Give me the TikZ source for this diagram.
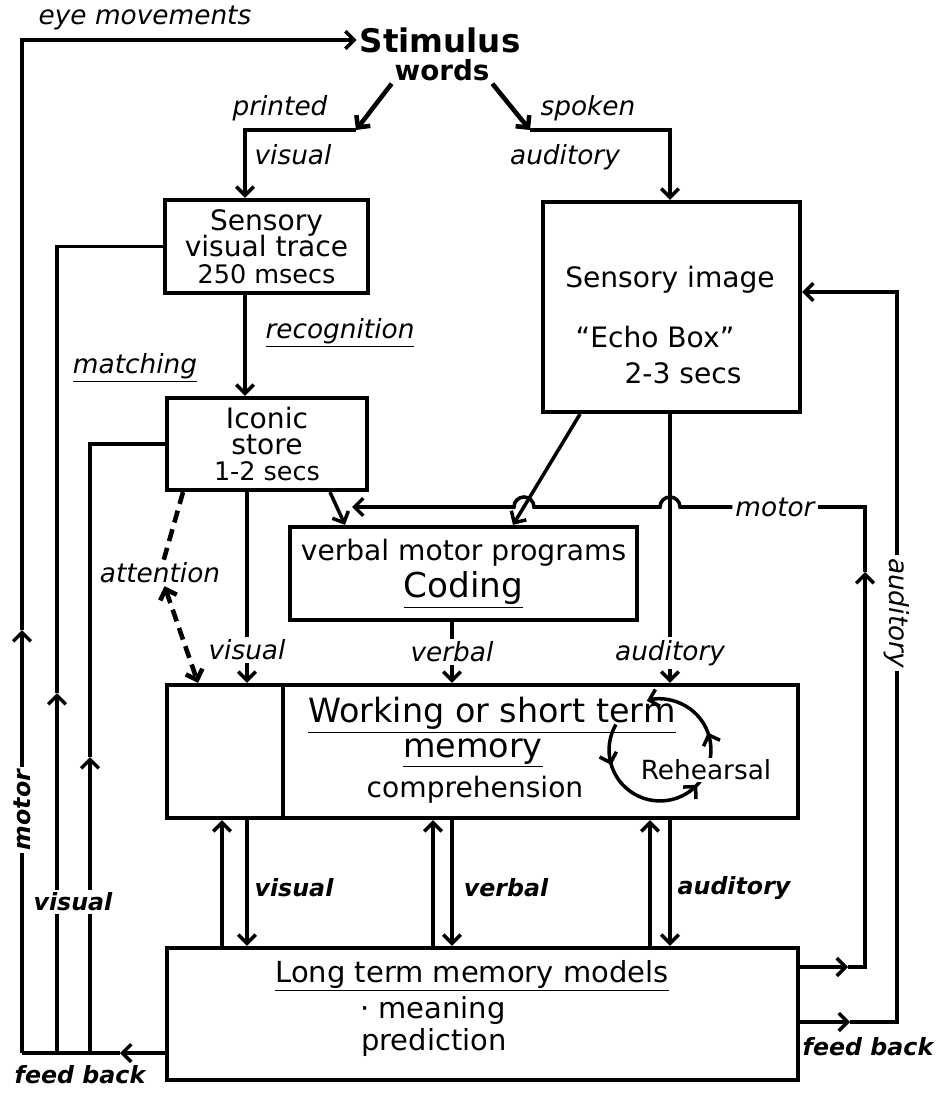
\documentclass[tikz,border=0pt]{standalone}
\usepackage{fontspec}
\setmainfont{DejaVu Sans}
\usetikzlibrary{arrows.meta,decorations.markings}

\newcommand\lblfnt{\fontsize{15}{18}\selectfont\itshape}
\newcommand\blblfnt{\fontsize{13.5}{16}\selectfont\bfseries\itshape}
\newcommand\boxfnt{\fontsize{16}{15}\selectfont\lineskiplimit=-30pt\relax}
\newcommand\secsfnt{\fontsize{14.5}{15}\selectfont}
\newcommand\bigfnt{\fontsize{19}{21}\selectfont}
\newcommand\ltmfnt{\fontsize{16.5}{18}\selectfont}

\tikzset{
  conn/.style={line width=2pt},
  box/.style={draw, line width=2.4pt, align=center},
  lbl/.style={font=\lblfnt, inner sep=1.5pt},
  blbl/.style={font=\blblfnt, inner sep=1.5pt},
  txt/.style={font=\boxfnt, inner sep=1pt},
  loopmarks/.style={postaction={decorate}, decoration={markings,
      mark=at position 0.15 with {\arrow{>}},
      mark=at position 0.53 with {\arrow{>}},
      mark=at position 0.73 with {\arrow{>}}}},
}

\begin{document}
\begin{tikzpicture}[x=0.02cm, y=-0.02cm, >={Straight Barb[length=5pt,width=10pt]}]
    \useasboundingbox (0,0) rectangle (947,1094);

    % stimulus
    \node[font=\fontsize{18.5}{20}\selectfont\bfseries, inner sep=1.5pt] (stim) at (440,40) {Stimulus};
    \node[font=\fontsize{15.8}{18}\selectfont\bfseries, inner sep=1.5pt] (words) at (442,70) {words};
    \node[lbl] (eyemov) at (145,18) {eye movements};

    % boxes
    \node[box, font=\boxfnt, minimum width=4.06cm, minimum height=1.86cm] (svt) at (266.5,246.5)
        {Sensory\\visual trace\\{\secsfnt 250 msecs}};
    \node[box, font=\boxfnt, minimum width=4cm, minimum height=1.84cm] (iconic) at (267,444)
        {Iconic\\store\\{\secsfnt 1-2 secs}};
    \node[box, minimum width=5.14cm, minimum height=4.2cm] (simg) at (671.5,307) {};
    \node[txt] (simg1) at (670,280) {Sensory image};
    \node[txt] (simg2) at (655,337) {``Echo Box''};
    \node[txt] (simg3) at (683,373) {2-3 secs};
    \node[box, font=\boxfnt, minimum width=6.94cm, minimum height=1.86cm] (coding) at (463.5,573.5)
        {verbal motor programs\\[6pt]{\fontsize{19.5}{22}\selectfont\underline{Coding}}};
    \node[box, minimum width=12.62cm, minimum height=2.66cm] (wm) at (482.5,751.5) {};
    \draw[line width=2.4pt] (wm.north -| 283,0) -- (wm.south -| 283,0);
    \node[font=\bigfnt, inner sep=1pt] (wm1) at (492,715) {\underline{Working or short term}};
    \node[font=\bigfnt, inner sep=1pt] (wm2) at (473,753) {\underline{memory}};
    \node[txt] (wm3) at (475,790) {comprehension};
    \node[box, minimum width=12.62cm, minimum height=2.64cm] (ltm) at (482.5,1014) {};
    \node[font=\ltmfnt, inner sep=0pt] (ltm1) at (472,976) {\underline{Long term memory models}};
    \node[font=\ltmfnt, inner sep=0pt] (ltm2) at (433,1010) {· meaning};
    \node[font=\ltmfnt, inner sep=0pt] (ltm3) at (434,1042) {prediction};

    % rehearsal loop
    \coordinate (rc) at (660,750);
    \draw[conn,->,loopmarks] ([shift={(150:29pt)}]rc) arc[start angle=150, end angle=465, radius=29pt];
    \node[txt, fill=white, font=\fontsize{15}{16}\selectfont] (rehe) at (706,770) {Rehearsal};

    % stimulus to sensory stores
    \coordinate (pc) at (356,130);
    \coordinate (sc) at (530,130);
    \draw[line width=2.6pt,->] (words.south west) -- (pc);
    \draw[line width=2.6pt,->] (words.south east) -- (sc);
    \draw[conn,->] (pc) -- (245,130) -- (svt.north -| 245,0);
    \draw[conn,->] (sc) -- (670,130) -- (simg.north -| 670,0);
    \node[lbl] (printed) at (280,108) {printed};
    \node[lbl] (vis1) at (293,155) {visual};
    \node[lbl] (spoken) at (588,108) {spoken};
    \node[lbl] (aud1) at (565,157) {auditory};

    % visual route
    \draw[conn,->] (svt.south -| 245,0) -- (iconic.north -| 245,0);
    \node[lbl] (recog) at (340,333) {\underline{recognition}};
    \node[lbl] (match) at (135,368) {\underline{matching}};

    % into working memory
    \node[lbl] (vis2) at (247,650) {visual};
    \draw[conn,->] (iconic.south -| 247,0) -- (vis2) -- (wm.north -| 247,0);
    \node[lbl] (verb1) at (452,652) {verbal};
    \draw[conn,->] (coding.south -| 452,0) -- (verb1) -- (wm.north -| 452,0);
    \node[lbl] (aud2) at (670,653) {auditory};
    \draw[conn,->] (simg.south -| 670,0) -- (aud2) -- (wm.north -| 670,0);
    \node[lbl] (att) at (160,573) {attention};
    \draw[line width=2.6pt, dash pattern=on 7pt off 4pt, <->] (iconic.south -| 183,0) -- (att) -- (wm.north -| 198,0);

    % into coding
    \draw[conn,->] (iconic.south -| 330,0) -- (coding.north -| 345,0);
    \draw[conn,->] (simg.south -| 580,0) -- (coding.north -| 513,0);

    % motor loop
    \node[lbl] (motorlbl) at (775,507) {motor};
    \draw[conn,->] (ltm.east |- 0,967) -- (848,967);
    \draw[conn,->] (848,967) -- (865,967) -- (865,572);
    \draw[conn] (865,572) |- (motorlbl);
    \draw[conn,->] (motorlbl) -- (680,507) arc[start angle=0, end angle=180, radius=5.7pt]
        -- (534,507) arc[start angle=0, end angle=180, radius=5.7pt] -- (352,507);

    % auditory feed back
    \node[lbl, rotate=-90] (audr) at (897,613) {auditory};
    \draw[conn,->] (ltm.east |- 0,1022) -- (850,1022);
    \draw[conn,->] (850,1022) -- (897,1022) -- (audr) -- (897,292) -- (simg.east |- 0,292);
    \node[blbl] (fb2) at (868,1047) {feed back};

    % working memory <-> long term memory
    \foreach \u/\d in {222/247, 433/452, 650/670} {
        \draw[conn,->] (ltm.north -| \u,0) -- (wm.south -| \u,0);
        \draw[conn,->] (wm.south -| \d,0) -- (ltm.north -| \d,0);
    }
    \node[blbl] (vis3) at (294,888) {visual};
    \node[blbl] (verb2) at (506,888) {verbal};
    \node[blbl] (aud3) at (734,888) {auditory};

    % left feed back
    \coordinate (fbk) at (120,1053);
    \node[blbl, rotate=90] (motorl) at (22,810) {motor};
    \draw[conn,->] (ltm.west |- fbk) -- (fbk);
    \draw[conn] (fbk) -- (22,1053);
    \draw[conn,->] (22,1053) -- (motorl) -- (22,630);
    \draw[conn,->] (22,630) |- (stim);
    \draw[conn,->] (57,1053) -- (57,693);
    \draw[conn] (57,693) |- (svt);
    \draw[conn,->] (90,1053) -- (90,757);
    \draw[conn] (90,757) |- (iconic);
    \node[blbl, fill=white] (visl) at (73,902) {visual};
    \node[blbl] (fb1) at (80,1075) {feed back};
\end{tikzpicture}
\end{document}
